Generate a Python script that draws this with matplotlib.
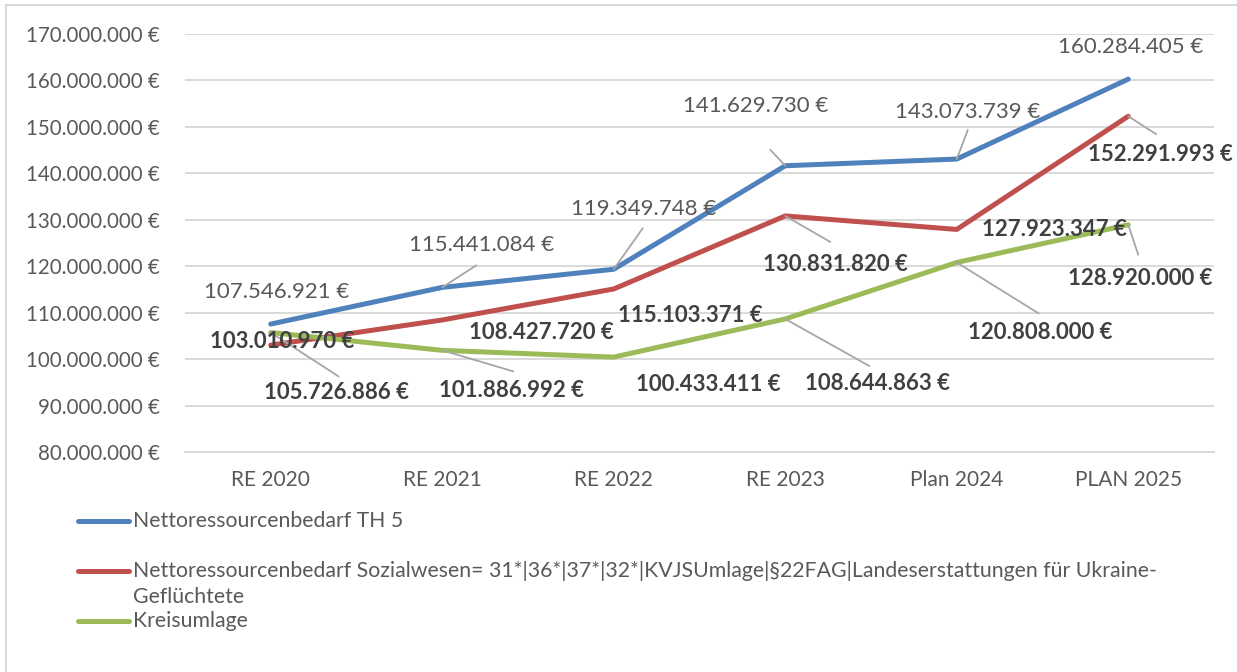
import matplotlib.pyplot as plt
from matplotlib.lines import Line2D
from matplotlib.patches import Rectangle

plt.rcParams['font.family'] = ['Lato', 'DejaVu Sans']

kategorien = ['RE 2020', 'RE 2021', 'RE 2022', 'RE 2023', 'Plan 2024', 'PLAN 2025']
th5 = [107546921, 115441084, 119349748, 141629730, 143073739, 160284405]
sozial = [103010970, 108427720, 115103371, 130831820, 127923347, 152291993]
kreisumlage = [105726886, 101886992, 100433411, 108644863, 120808000, 128920000]
namen = ['Nettoressourcenbedarf TH 5',
         'Nettoressourcenbedarf Sozialwesen= 31*|36*|37*|32*|KVJSUmlage|§22FAG|Landeserstattungen für Ukraine-',
         'Kreisumlage']
yticks = [80000000, 90000000, 100000000, 110000000, 120000000, 130000000,
          140000000, 150000000, 160000000, 170000000]

farben = ['#4F81BD', '#C0504D', '#9BBB59']

# label offsets in pixels (dx, dy), leader end offsets (None = no leader)
off_blau = [(6, 32), (39, 42), (30, 60), (-30, 60), (11, 47), (2, 32)]
off_rot = [(11, 4), (99, -13), (77, -27), (50, -49), (98, 0), (32, -38)]
off_gruen = [(66, -60), (69, -40), (95, -27), (92, -65), (83, -70), (12, -54)]
lei_blau = [None, (34, 22), (29, 41), (-15, 16), (11, 29), None]
lei_rot = [None, None, None, (45, -26), None, (28, -18)]
lei_gruen = [(68, -44), (71, -21), None, (84, -47), (82, -51), (10, -30)]


def euro(v):
    return f"{v:,.0f}".replace(',', '.') + ' €'


W, H = 1237, 672
fig = plt.figure(figsize=(W / 100, H / 100), dpi=100)
ax = fig.add_axes([185 / W, 1 - 452 / H, (1214 - 185) / W, (452 - 34) / H])

x = list(range(len(kategorien)))
reihen = [th5, sozial, kreisumlage]
for werte, col in zip(reihen, farben):
    ax.plot(x, werte, color=col, lw=3.6, solid_capstyle='round', solid_joinstyle='round', zorder=3)

ax.set_xlim(-0.5, len(kategorien) - 0.5)
ax.set_ylim(80000000, 170000000)
ax.set_yticks(yticks)
ax.set_yticklabels([euro(v) for v in yticks])
ax.set_xticks(x)
ax.set_xticklabels(kategorien)
ax.tick_params(axis='y', length=0, pad=18, labelsize=14.8, labelcolor='#595959')
ax.tick_params(axis='x', length=0, pad=13, labelsize=15, labelcolor='#595959')
ax.grid(axis='y', color='#D9D9D9', lw=1.4)
ax.set_axisbelow(True)
for s in ax.spines.values():
    s.set_visible(False)
ax.spines['bottom'].set_visible(True)
ax.spines['bottom'].set_color('#D9D9D9')
ax.spines['bottom'].set_linewidth(1.4)

stil = [(off_blau, lei_blau, 'normal', '#595959'),
        (off_rot, lei_rot, 'bold', '#404040'),
        (off_gruen, lei_gruen, 'bold', '#404040')]
for werte, (offs, leis, fw, tc) in zip(reihen, stil):
    for i, v in enumerate(werte):
        if leis[i] is not None:
            ax.annotate('', xy=(i, v), xytext=leis[i], textcoords='offset pixels',
                        arrowprops=dict(arrowstyle='-', color='#A6A6A6', lw=1.3,
                                        shrinkA=0, shrinkB=0), zorder=4)
        ax.annotate(euro(v), xy=(i, v), xytext=offs[i], textcoords='offset pixels',
                    ha='center', va='center', fontsize=16, fontweight=fw,
                    color=tc, zorder=5)

# legend below the plot
leg_y = [521, 571, 621]
for yy, col, name in zip(leg_y, farben, namen):
    fig.add_artist(Line2D([78 / W, 129 / W], [1 - yy / H] * 2, color=col, lw=3.6,
                          solid_capstyle='round'))
    fig.text(133 / W, 1 - yy / H, name, fontsize=15.3, color='#595959', va='center')
fig.text(133 / W, 1 - 597 / H, 'Geflüchtete', fontsize=15.3, color='#595959', va='center')

fig.add_artist(Rectangle((6 / W, -0.1), 1.2, 1.1 - 5 / H, transform=fig.transFigure,
                         fill=False, edgecolor='#D9D9D9', lw=1.5))

fig.savefig('out.png', dpi=100)
